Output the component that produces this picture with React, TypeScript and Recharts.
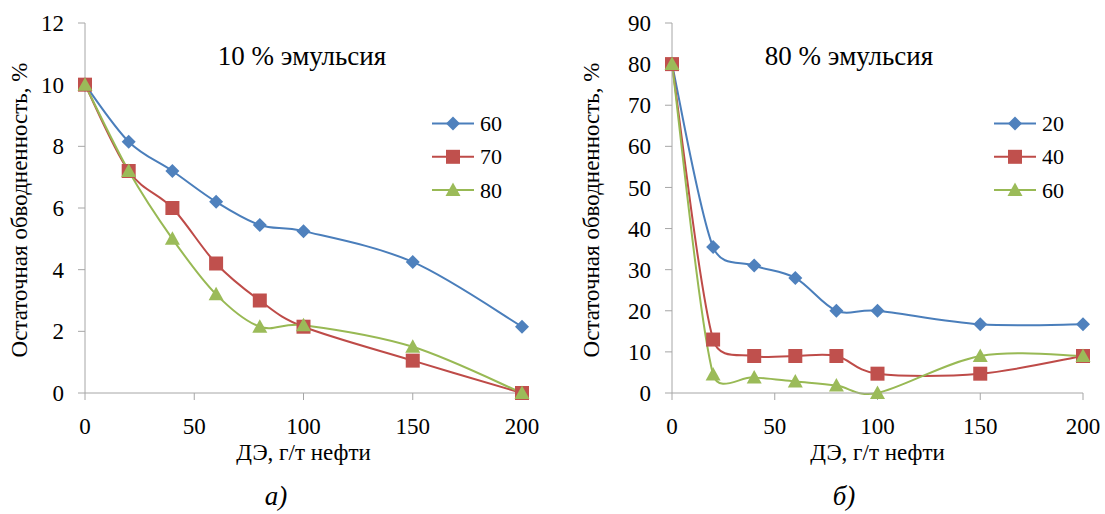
import React from "react";
import { LineChart, Line, XAxis, YAxis, Legend } from "recharts";

// x values: dose of demulsifier, g/t of oil
const doses = [0, 20, 40, 60, 80, 100, 150, 200];

// a) 10 % emulsion
const left60 = [10, 8.15, 7.2, 6.2, 5.45, 5.25, 4.25, 2.15];
const left70 = [10, 7.2, 6, 4.2, 3, 2.15, 1.05, 0];
const left80 = [10, 7.2, 5, 3.2, 2.15, 2.2, 1.5, 0];
const leftNames = ["60", "70", "80"];

// b) 80 % emulsion
const right20 = [80, 35.5, 31, 28, 20, 20, 16.7, 16.7];
const right40 = [80, 13, 9, 9, 9, 4.7, 4.7, 9];
const right60 = [80, 4.5, 3.8, 2.8, 1.8, 0, 9, 9];
const rightNames = ["20", "40", "60"];

const xTicks = [0, 50, 100, 150, 200];
const leftYTicks = [0, 2, 4, 6, 8, 10, 12];
const rightYTicks = [0, 10, 20, 30, 40, 50, 60, 70, 80, 90];

const FONT = "'Liberation Serif', 'Noto Serif', 'DejaVu Serif', 'FreeSerif', 'Times New Roman', Times, serif";
const AXIS = "#a6a6a6";

const SERIES = [
  { key: "s1", line: "#4a7ebb", fill: "#4f81bd", shape: "diamond" },
  { key: "s2", line: "#be4b48", fill: "#c0504d", shape: "square" },
  { key: "s3", line: "#98b954", fill: "#9bbb59", shape: "triangle" },
];

// Excel-like smoothed line (bezier, arms capped to half of the segment)
function excelSmooth(context: any) {
  let pts: number[][] = [];
  return {
    areaStart() {},
    areaEnd() {},
    lineStart() {
      pts = [];
    },
    point(x: number, y: number) {
      pts.push([+x, +y]);
    },
    lineEnd() {
      const n = pts.length;
      if (!n) return;
      context.moveTo(pts[0][0], pts[0][1]);
      for (let i = 0; i < n - 1; i++) {
        const p0 = pts[i - 1] || pts[i];
        const p1 = pts[i];
        const p2 = pts[i + 1];
        const p3 = pts[i + 2] || p2;
        const d02 = Math.hypot(p2[0] - p0[0], p2[1] - p0[1]);
        const d12 = Math.hypot(p2[0] - p1[0], p2[1] - p1[1]);
        const d13 = Math.hypot(p3[0] - p1[0], p3[1] - p1[1]);
        let f0 = 1 / 6;
        let f3 = 1 / 6;
        if (d02 / 6 >= d12 / 2) f0 = d02 ? d12 / d02 / 2 : 0;
        if (d13 / 6 >= d12 / 2) f3 = d13 ? d12 / d13 / 2 : 0;
        context.bezierCurveTo(
          p1[0] + f0 * (p2[0] - p0[0]),
          p1[1] + f0 * (p2[1] - p0[1]),
          p2[0] - f3 * (p3[0] - p1[0]),
          p2[1] - f3 * (p3[1] - p1[1]),
          p2[0],
          p2[1]
        );
      }
    },
  };
}

function Marker({ cx, cy, shape, color }: any) {
  if (cx == null || cy == null) return null;
  if (shape === "diamond") {
    const r = 7;
    return <polygon points={`${cx},${cy - r} ${cx + r},${cy} ${cx},${cy + r} ${cx - r},${cy}`} fill={color} />;
  }
  if (shape === "square") {
    return <rect x={cx - 7} y={cy - 7} width={14} height={14} fill={color} />;
  }
  return <polygon points={`${cx},${cy - 7.5} ${cx + 7.5},${cy + 6} ${cx - 7.5},${cy + 6}`} fill={color} />;
}

function LegendBox({ names }: { names: string[] }) {
  return (
    <svg width={110} height={100}>
      {SERIES.map((s, i) => {
        const y = 16.5 + i * 33.3;
        return (
          <g key={s.key}>
            <line x1={0} x2={42} y1={y} y2={y} stroke={s.line} strokeWidth={2} />
            <Marker cx={21} cy={y} shape={s.shape} color={s.fill} />
            <text x={48} y={y + 7.5} style={{ fontFamily: FONT, fontSize: 22 }} fill="#000">
              {names[i]}
            </text>
          </g>
        );
      })}
    </svg>
  );
}

const tickStyle = { fontSize: 23, fill: "#000", style: { fontFamily: FONT } };

function Panel({ data, names, yTicks, yMax, width, yAxisWidth, right, legendLeft }: any) {
  return (
    <LineChart width={width} height={514} data={data} margin={{ top: 23, right, bottom: 91, left: 0 }}>
      <XAxis
        dataKey="dose"
        type="number"
        domain={[0, 200]}
        ticks={xTicks}
        height={30}
        tickSize={7}
        tickMargin={18}
        stroke={AXIS}
        tick={tickStyle}
      />
      <YAxis
        type="number"
        domain={[0, yMax]}
        ticks={yTicks}
        width={yAxisWidth}
        tickSize={7}
        tickMargin={14}
        stroke={AXIS}
        tick={tickStyle}
      />
      <Legend
        layout="vertical"
        align="center"
        verticalAlign="middle"
        wrapperStyle={{ left: legendLeft, top: 107, width: 110, height: 100 }}
        content={() => <LegendBox names={names} />}
      />
      {SERIES.map((s, i) => (
        <Line
          key={s.key}
          dataKey={s.key}
          name={names[i]}
          type={excelSmooth as any}
          stroke={s.line}
          strokeWidth={2}
          dot={(p: any) => <Marker key={`${s.key}-${p.index}`} cx={p.cx} cy={p.cy} shape={s.shape} color={s.fill} />}
          activeDot={false}
          isAnimationActive={false}
        />
      ))}
    </LineChart>
  );
}

export default function App() {
  const leftData = doses.map((d, i) => ({ dose: d, s1: left60[i], s2: left70[i], s3: left80[i] }));
  const rightData = doses.map((d, i) => ({ dose: d, s1: right20[i], s2: right40[i], s3: right60[i] }));
  return (
    <div style={{ position: "absolute", left: 0, top: 0, width: 1105, height: 514, background: "#fff", fontFamily: FONT }}>
      <div style={{ position: "absolute", left: 0, top: 0 }}>
        <Panel data={leftData} names={leftNames} yTicks={leftYTicks} yMax={12} width={552} yAxisWidth={85} right={30} legendLeft={432} />
      </div>
      <div style={{ position: "absolute", left: 552, top: 0 }}>
        <Panel data={rightData} names={rightNames} yTicks={rightYTicks} yMax={90} width={553} yAxisWidth={120} right={22} legendLeft={442} />
      </div>
      <svg width={1105} height={514} style={{ position: "absolute", left: 0, top: 0, pointerEvents: "none", fontFamily: FONT }} fill="#000">
        <text x={302} y={65} fontSize={27} textAnchor="middle">10 % эмульсия</text>
        <text x={849} y={65} fontSize={27} textAnchor="middle">80 % эмульсия</text>
        <text x={303.5} y={460} fontSize={23} textAnchor="middle">ДЭ, г/т нефти</text>
        <text x={877.5} y={460} fontSize={23} textAnchor="middle">ДЭ, г/т нефти</text>
        <text transform="translate(27 210) rotate(-90)" fontSize={23} textAnchor="middle">Остаточная обводненность, %</text>
        <text transform="translate(599 210) rotate(-90)" fontSize={23} textAnchor="middle">Остаточная обводненность, %</text>
        <text x={276} y={505} fontSize={27} fontStyle="italic" textAnchor="middle">а)</text>
        <text x={844} y={505} fontSize={27} fontStyle="italic" textAnchor="middle">б)</text>
      </svg>
    </div>
  );
}
